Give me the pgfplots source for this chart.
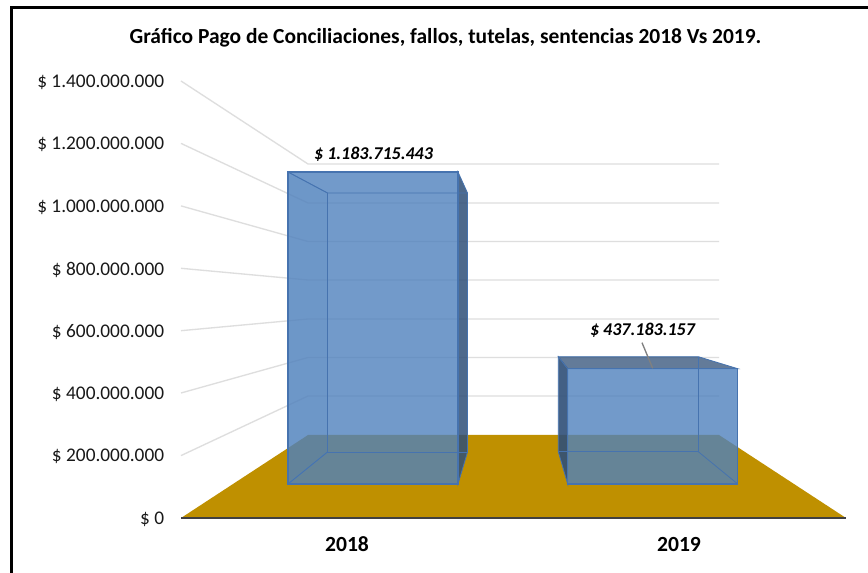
\documentclass[border=0pt]{standalone}
\usepackage{pgfplots}
\pgfplotsset{compat=1.18}
\usepackage{fontspec}
\setmainfont{Carlito}
\definecolor{barblue}{RGB}{79,129,189}
\definecolor{baredge}{RGB}{70,115,175}
\definecolor{bardark}{RGB}{47,79,120}
\definecolor{floorgold}{RGB}{191,144,0}
\definecolor{gridgrey}{RGB}{222,222,222}
\pgfplotsset{
  common/.style={
    scale only axis, width=498.75pt, height=327.75pt,
    at={(135.75pt,41.25pt)}, anchor=south west, clip=false,
    xmin=181, xmax=846},
}
\begin{document}
\begin{tikzpicture}
\path[use as bounding box] (0,0) rectangle (651pt,429.75pt);
\fill[white] (0,0) rectangle (651pt,429.75pt);
\draw[black,line width=2.5pt] (8.8pt,0) -- (8.8pt,424pt) -- (651pt,424pt);
% axis with the real scale: tick labels
\begin{axis}[common,
  ymin=0, ymax=1400000000,
  axis line style={draw=none}, tick style={draw=none},
  axis x line=bottom, axis y line=left,
  xtick={347,679}, xticklabels={\textbf{2018},\textbf{2019}},
  ytick={0,200000000,400000000,600000000,800000000,1000000000,1200000000,1400000000},
  yticklabels={\$ 0,\$ 200.000.000,\$ 400.000.000,\$ 600.000.000,\$ 800.000.000,\$ 1.000.000.000,\$ 1.200.000.000,\$ 1.400.000.000},
  yticklabel style={font=\fontsize{14.5pt}{16pt}\selectfont,text=black!90,xshift=-7pt,yshift=-0.9pt,anchor=east},
  xticklabel style={font=\fontsize{16.2pt}{18pt}\selectfont,text=black,text height=11pt,text depth=0pt,yshift=-8.8pt},
  scaled y ticks=false, scaled x ticks=false,
]
\end{axis}
% scenery of the 3-D box, pixel coordinates
\begin{axis}[common, hide axis, y dir=reverse, ymin=81, ymax=518]
\addplot[gridgrey,line width=1pt] coordinates {(181,81) (308,164) (719,164)};
\addplot[gridgrey,line width=1pt] coordinates {(181,143.4) (308,203) (719,203)};
\addplot[gridgrey,line width=1pt] coordinates {(181,205.9) (308,241.5) (719,241.5)};
\addplot[gridgrey,line width=1pt] coordinates {(181,268.3) (308,280) (719,280)};
\addplot[gridgrey,line width=1pt] coordinates {(181,330.7) (308,319) (719,319)};
\addplot[gridgrey,line width=1pt] coordinates {(181,393) (308,357.5) (719,357.5)};
\addplot[gridgrey,line width=1pt] coordinates {(181,455.6) (308,396) (719,396)};
\addplot[fill=floorgold,draw=none] coordinates {(181,518) (308,435) (719,435) (846,518)} -- cycle;
\addplot[black!75,line width=1.2pt] coordinates {(181,518) (846,518)};
% 2018 side, back faces
\addplot[fill=bardark,fill opacity=.85,draw=baredge,line width=.6pt] coordinates {(458,172) (467.5,193) (467.5,452) (458,484)} -- cycle;
\addplot[fill=barblue,fill opacity=.12,draw=baredge,line width=.6pt] coordinates {(288,172) (327.5,193) (327.5,452) (288,484)} -- cycle;
% 2019 side, top, back faces
\addplot[fill=bardark,fill opacity=.9,draw=baredge,line width=.6pt] coordinates {(558.3,356.7) (567.7,368.7) (567.7,484) (558.3,451.7)} -- cycle;
\addplot[fill=bardark,fill opacity=.75,draw=baredge,line width=.6pt] coordinates {(558.3,356.7) (698.3,356.7) (737.7,368.7) (567.7,368.7)} -- cycle;
\end{axis}
% front faces: the values on the scale of the front plane
\begin{axis}[common, hide axis, ymin=-128994640, ymax=1528965880]
\addplot[fill=barblue,fill opacity=.8,draw=baredge,line width=.9pt] coordinates {(288,0) (458,0) (458,1183715443) (288,1183715443)} -- cycle;
\addplot[fill=barblue,fill opacity=.8,draw=baredge,line width=.9pt] coordinates {(567.7,0) (737.7,0) (737.7,437183157) (567.7,437183157)} -- cycle;
\end{axis}
% inner edges over the front faces, pixel coordinates
\begin{axis}[common, hide axis, y dir=reverse, ymin=81, ymax=518]
\addplot[baredge,line width=.6pt] coordinates {(288,172) (327.5,193) (467.5,193)};
\addplot[baredge,line width=.6pt] coordinates {(327.5,193) (327.5,452) (467.5,452)};
\addplot[baredge,line width=.6pt] coordinates {(288,484) (327.5,452)};
\addplot[baredge,line width=.6pt] coordinates {(458,172) (458,484)};
\addplot[baredge,line width=.6pt] coordinates {(558.3,451.7) (698.3,451.7) (698.3,356.7)};
\addplot[baredge,line width=.6pt] coordinates {(698.3,451.7) (737.7,484)};
\addplot[black!50,line width=1pt] coordinates {(642,342.7) (652.7,368.3)};
\node[font=\fontsize{13.5pt}{15pt}\selectfont\bfseries\itshape] at (axis cs:373.5,154) {\$ 1.183.715.443};
\node[font=\fontsize{13.5pt}{15pt}\selectfont\bfseries\itshape] at (axis cs:642.5,330.5) {\$ 437.183.157};
\end{axis}
\node[font=\fontsize{16.1pt}{18pt}\selectfont\bfseries] at (334.1pt,401.7pt) {Gráfico Pago de Conciliaciones, fallos, tutelas, sentencias 2018 Vs 2019.};
\end{tikzpicture}
\end{document}
